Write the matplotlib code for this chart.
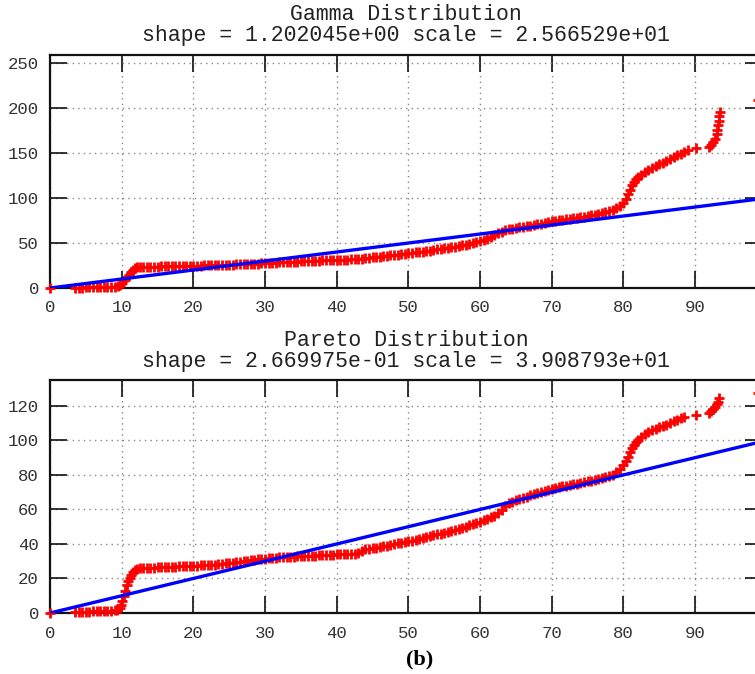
import matplotlib
matplotlib.use("Agg")
import matplotlib.pyplot as plt

# ---------------- data ----------------
gamma_x = [0.0, 3.5, 4.0, 4.5, 5.0, 5.5, 6.0, 6.5, 7.0, 7.5, 8.0, 8.5, 9.0, 9.5, 9.8,
           10.1, 10.4, 10.7, 11.0, 11.3, 11.6, 11.9, 12.2, 12.6, 13, 13.5, 14, 14.5, 15,
           15.5, 16, 16.5, 17, 17.5, 18, 18.5, 19, 19.5, 20, 20.5, 21, 21.5, 22, 22.5,
           23, 23.5, 24, 24.5, 25, 25.5, 26, 26.5, 27, 27.5, 28, 28.5, 29, 29.5, 30,
           30.5, 31, 31.5, 32, 32.5, 33, 33.5, 34, 34.5, 35, 35.5, 36, 36.5, 37, 37.5,
           38, 38.5, 39, 39.5, 40, 40.5, 41, 41.5, 42, 42.5, 43, 43.5, 44, 44.5, 45,
           45.5, 46, 46.5, 47, 47.5, 48, 48.5, 49, 49.5, 50, 50.5, 51, 51.5, 52, 52.5,
           53, 53.5, 54, 54.5, 55, 55.5, 56, 56.5, 57, 57.5, 58, 58.5, 59, 59.5, 60,
           60.5, 61, 61.5, 62, 62.5, 63, 63.5, 64, 64.5, 65, 65.5, 66, 66.5, 67, 67.5,
           68, 68.5, 69, 69.5, 70, 70.5, 71, 71.5, 72, 72.5, 73, 73.5, 74, 74.5, 75,
           75.5, 76, 76.5, 77, 77.5, 78, 78.5, 79, 79.5, 80, 80.3, 80.6, 80.9, 81.2,
           81.5, 81.8, 82.1, 82.5, 83, 83.5, 84, 84.5, 85, 85.5, 86, 86.5, 87, 87.5,
           88, 88.5, 89, 90.1, 91.9, 92.2, 92.5, 92.8, 93.0, 93.1, 93.2, 93.3, 93.4,
           93.45, 98.8]
gamma_y = [0.0, 0.3, 0.4, 0.5, 0.6, 0.7, 0.8, 0.9, 1.0, 1.1, 1.2, 1.4, 1.6, 2.2, 3.5,
           6, 9, 12, 15, 18, 20.5, 22, 23, 23.3, 23.4, 23.5, 23.6, 23.7, 23.8,
           23.9, 24.0, 24.1, 24.2, 24.3, 24.4, 24.5, 24.6, 24.7, 24.8, 24.9, 25.0, 25.1,
           25.2, 25.3, 25.4, 25.5, 25.6, 25.8, 26.0, 26.1, 26.3, 26.4, 26.6, 26.7, 26.9,
           27.0, 27.2, 27.4, 27.6, 27.8, 28.0, 28.2, 28.4, 28.6, 28.8, 29.0, 29.2, 29.4,
           29.6, 29.8, 30.0, 30.2, 30.4, 30.5, 30.6, 30.7, 30.8, 30.9, 31.0, 31.2, 31.4,
           31.6, 31.8, 32.0, 32.2, 32.6, 33.0, 33.5, 34.0, 34.5, 35.0, 35.4, 35.8, 36.2,
           36.6, 37.0, 37.5, 38.0, 38.5, 39.0, 39.5, 40.0, 40.5, 41.0, 41.5, 42.2, 42.8,
           43.4, 44.0, 44.7, 45.4, 46.1, 46.8, 47.5, 48.3, 49.1, 50.0, 51.0, 52.3, 53.6,
           55.0, 56.8, 58.6, 60.6, 62.5, 64.0, 65.2, 66.0, 66.7, 67.3, 67.9, 68.5, 69.2,
           70.0, 70.8, 71.6, 72.5, 73.5, 74.2, 74.8, 75.3, 75.8, 76.3, 76.8, 77.3, 77.9,
           78.5, 79.2, 80.0, 80.8, 81.6, 82.5, 83.4, 84.5, 85.7, 87.2, 89.0, 91.5, 95,
           99, 104, 109, 114, 118, 121, 123.5, 126, 129, 131.5, 133.5, 135.5, 137.5,
           139.5, 141.5, 143.5, 145.5, 147.5, 149.5, 151.5, 153, 155.6, 157, 159, 162,
           166, 171, 176, 181, 186, 191, 196, 209]

pareto_x = [0.0, 3.5, 4, 4.5, 5, 5.5, 6, 6.5, 7, 7.5, 8, 8.5, 9, 9.4, 9.7, 9.9, 10.1,
            10.3, 10.5, 10.7, 10.9, 11.1, 11.3, 11.6, 11.9, 12.2, 12.6, 13, 13.5, 14,
            14.5, 15, 15.5, 16, 16.5, 17, 17.5, 18, 18.5, 19, 19.5, 20, 20.5, 21, 21.5,
            22, 22.5, 23, 23.5, 24, 24.5, 25, 25.5, 26, 26.5, 27, 27.5, 28, 28.5, 29,
            29.5, 30, 30.5, 31, 31.5, 32, 32.5, 33, 33.5, 34, 34.5, 35, 35.5, 36, 36.5,
            37, 37.5, 38, 38.5, 39, 39.5, 40, 40.5, 41, 41.5, 42, 42.5, 43, 43.5, 44,
            44.5, 45, 45.5, 46, 46.5, 47, 47.5, 48, 48.5, 49, 49.5, 50, 50.5, 51, 51.5,
            52, 52.5, 53, 53.5, 54, 54.5, 55, 55.5, 56, 56.5, 57, 57.5, 58, 58.5, 59,
            59.5, 60, 60.5, 61, 61.5, 62, 62.5, 63, 63.5, 64, 64.5, 65, 65.5, 66, 66.5,
            67, 67.5, 68, 68.5, 69, 69.5, 70, 70.5, 71, 71.5, 72, 72.5, 73, 73.5, 74,
            74.5, 75, 75.5, 76, 76.5, 77, 77.5, 78, 78.5, 79, 79.5, 80, 80.3, 80.6, 80.9,
            81.2, 81.5, 81.8, 82.1, 82.5, 83, 83.5, 84, 84.5, 85, 85.5, 86, 86.5, 87,
            87.5, 88, 88.5, 90.1, 91.9, 92.2, 92.5, 92.8, 93.0, 93.15, 93.3, 98.8]
pareto_y = [0.0, 0.4, 0.5, 0.6, 0.7, 0.8, 0.9, 1.0, 1.1, 1.2, 1.3, 1.4, 1.6, 2.0, 3.0,
            4.5, 7, 10, 13, 16, 18.5, 20.5, 22, 23.5, 24.7, 25.4, 25.8, 26.0, 26.1, 26.2,
            26.3, 26.4, 26.5, 26.6, 26.7, 26.8, 26.9, 27.0, 27.1, 27.2, 27.3, 27.4, 27.5,
            27.6, 27.7, 27.8, 27.9, 28.1, 28.3, 28.5, 28.7, 28.9, 29.2, 29.5, 29.8, 30.1,
            30.4, 30.7, 30.9, 31.1, 31.3, 31.5, 31.7, 31.9, 32.1, 32.3, 32.4, 32.5, 32.6,
            32.7, 32.8, 32.9, 33.0, 33.1, 33.2, 33.3, 33.4, 33.5, 33.6, 33.7, 33.8, 33.9,
            34.0, 34.1, 34.2, 34.3, 34.4, 34.6, 36.0, 36.8, 37.2, 37.5, 37.9, 38.3, 38.7,
            39.1, 39.5, 39.9, 40.3, 40.7, 41.1, 41.5, 42.0, 42.5, 43.0, 43.5, 44.0, 44.5,
            45.0, 45.5, 46.0, 46.5, 47.1, 47.7, 48.3, 48.9, 49.5, 50.1, 50.8, 51.5, 52.2,
            53.0, 53.8, 54.6, 55.4, 56.3, 57.8, 59.8, 62.0, 63.6, 64.6, 65.4, 66.1, 66.8,
            67.5, 68.2, 68.9, 69.6, 70.2, 70.8, 71.4, 72.0, 72.5, 73.0, 73.4, 73.8, 74.2,
            74.6, 75.0, 75.4, 75.8, 76.2, 76.6, 77.0, 77.5, 78.0, 78.6, 79.3, 80.2, 81.5,
            83.5, 86, 88, 90.5, 93, 95.5, 97.5, 99.2, 100.5, 102, 103.5, 104.8, 105.8,
            106.8, 107.6, 108.4, 109.2, 110, 111, 112, 113, 113.8, 114.8, 115.8, 116.8,
            118, 119.5, 121, 122.5, 124.5, 127.5]

ref_x = [0, 100]
ref_y = [0, 100]

xticks = [0, 10, 20, 30, 40, 50, 60, 70, 80, 90]
gamma_yticks = [0, 50, 100, 150, 200, 250]
pareto_yticks = [0, 20, 40, 60, 80, 100, 120]

gamma_title = ["Gamma Distribution", "shape = 1.202045e+00 scale = 2.566529e+01"]
pareto_title = ["Pareto Distribution", "shape = 2.669975e-01 scale = 3.908793e+01"]
panel_label = "(b)"

# ---------------- figure ----------------
W, H = 755, 674
fig = plt.figure(figsize=(W / 100, H / 100), dpi=100)
MONO = "Liberation Mono"


def px_axes(left, top, right, bottom):
    return fig.add_axes([left / W, 1 - bottom / H, (right - left) / W, (bottom - top) / H])


def panel(ax, xs, ys, yticks, ymax):
    ax.set_xlim(0, 99.34)
    ax.set_ylim(0, ymax)
    ax.set_xticks(xticks)
    ax.set_xticklabels([str(t) for t in xticks])
    ax.set_yticks(yticks)
    ax.set_yticklabels([str(t) for t in yticks])
    ax.grid(True, color="#888888", linestyle=(0, (1, 3)), linewidth=1.0)
    ax.set_axisbelow(True)
    ax.plot(xs, ys, linestyle="none", marker="+", color="#ff0000",
            markersize=6.5, markeredgewidth=2.0, clip_on=False, zorder=3)
    ax.plot(ref_x, ref_y, color="#0000ff", linewidth=2.4, zorder=4)
    ax.tick_params(direction="in", length=12, width=1.2, top=True, right=True,
                   colors="#111111", labelsize=12.5)
    ax.tick_params(axis="x", pad=9)
    ax.tick_params(axis="y", pad=8)
    for lab in ax.get_xticklabels() + ax.get_yticklabels():
        lab.set_fontfamily(MONO)
        lab.set_color("#333333")
    for s in ax.spines.values():
        s.set_linewidth(1.6)
        s.set_color("#111111")


ax1 = px_axes(50, 55, 762, 288)
panel(ax1, gamma_x, gamma_y, gamma_yticks, 259)
ax2 = px_axes(50, 380, 762, 613)
panel(ax2, pareto_x, pareto_y, pareto_yticks, 135)

cx = 406 / W
for (t, yp) in zip(gamma_title, [15, 36]):
    fig.text(cx, 1 - yp / H, t, ha="center", va="center", fontsize=15.5,
             fontfamily=MONO, color="#222222")
for (t, yp) in zip(pareto_title, [340, 362]):
    fig.text(cx, 1 - yp / H, t, ha="center", va="center", fontsize=15.5,
             fontfamily=MONO, color="#222222")

fig.text(420 / W, 1 - 659 / H, panel_label, ha="center", va="center",
         fontsize=16, fontweight="bold", fontfamily="Liberation Serif", color="black")

fig.savefig("out.png", dpi=100)
